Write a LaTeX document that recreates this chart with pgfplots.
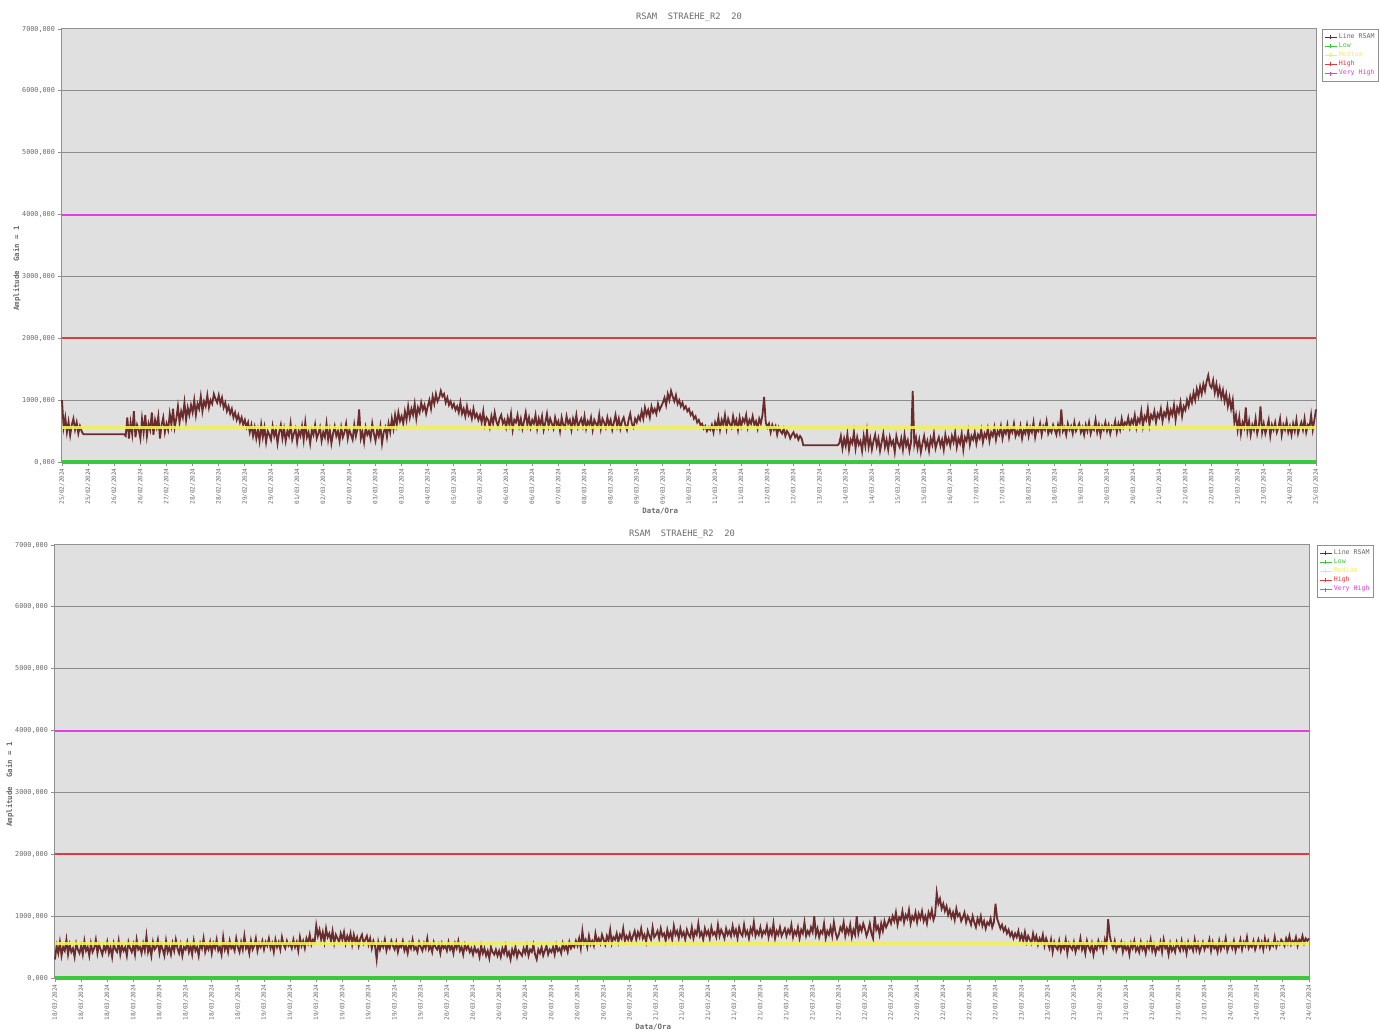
\documentclass[border=0pt]{standalone}
\usepackage{fontspec}
\setmainfont{DejaVu Sans Mono}
\usepackage{pgfplots}
\usepackage{pgfplotstable}
\pgfplotsset{compat=1.18}

\definecolor{plotbg}{HTML}{E0E0E0}
\definecolor{gridgray}{HTML}{8C8C8C}
\definecolor{axgray}{HTML}{909090}
\definecolor{lblgray}{HTML}{6A6A6A}
\definecolor{rsam}{HTML}{6A2C2C}
\definecolor{lowgreen}{HTML}{3CC83C}
\definecolor{medyellow}{HTML}{F2F05A}
\definecolor{highred}{HTML}{E03C3C}
\definecolor{vhmag}{HTML}{E040E0}

% RSAM samples, 16 per tick interval (25/02 - 25/03)
\pgfplotstableread[header=false,row sep=\\]{
1000\\560\\720\\480\\650\\430\\600\\700\\520\\640\\460\\580\\500\\450\\450\\450\\
450\\450\\450\\450\\450\\450\\450\\450\\450\\450\\450\\450\\450\\450\\450\\450\\
450\\450\\450\\450\\450\\450\\450\\420\\720\\380\\640\\450\\820\\400\\600\\520\\
380\\700\\480\\760\\420\\620\\520\\800\\440\\680\\560\\740\\380\\600\\720\\480\\
620\\520\\780\\600\\860\\560\\700\\900\\640\\820\\720\\960\\680\\880\\760\\920\\
800\\1000\\760\\940\\860\\1060\\820\\980\\900\\1080\\880\\1000\\940\\1100\\1020\\960\\
1080\\940\\1040\\880\\960\\820\\900\\780\\860\\720\\800\\680\\760\\640\\720\\600\\
680\\560\\640\\480\\600\\420\\560\\380\\520\\340\\600\\400\\560\\320\\500\\440\\
360\\580\\420\\520\\300\\480\\600\\380\\540\\340\\500\\420\\620\\360\\460\\540\\
320\\500\\420\\580\\360\\640\\400\\480\\300\\520\\440\\600\\380\\460\\560\\340\\
480\\400\\620\\360\\520\\300\\460\\580\\420\\500\\340\\560\\400\\480\\620\\380\\
520\\440\\360\\600\\420\\540\\850\\380\\480\\320\\560\\440\\500\\380\\620\\460\\
340\\520\\420\\580\\300\\480\\560\\400\\620\\480\\700\\540\\760\\600\\800\\660\\
740\\620\\820\\680\\900\\720\\860\\760\\940\\700\\880\\800\\960\\840\\920\\780\\
900\\1000\\860\\1060\\940\\1100\\980\\1040\\1150\\1060\\1100\\960\\1040\\920\\980\\880\\
940\\840\\900\\800\\960\\780\\860\\740\\900\\760\\820\\700\\860\\720\\780\\680\\
760\\640\\820\\600\\720\\680\\560\\740\\620\\800\\660\\580\\700\\760\\620\\680\\
560\\720\\600\\780\\520\\680\\640\\760\\580\\700\\540\\660\\800\\600\\720\\560\\
680\\620\\760\\540\\700\\600\\740\\520\\640\\780\\580\\700\\620\\540\\720\\600\\
660\\500\\720\\600\\560\\740\\620\\680\\520\\700\\600\\760\\560\\640\\700\\580\\
740\\540\\660\\600\\720\\520\\680\\620\\580\\760\\540\\700\\640\\560\\720\\600\\
680\\520\\640\\760\\580\\700\\540\\660\\720\\600\\520\\680\\780\\620\\560\\700\\
640\\740\\680\\820\\700\\880\\760\\840\\720\\900\\800\\860\\780\\940\\840\\900\\
960\\1040\\920\\1100\\1000\\1150\\1060\\980\\1080\\940\\1000\\900\\960\\860\\900\\820\\
860\\760\\800\\700\\740\\640\\680\\600\\620\\540\\580\\500\\560\\520\\600\\480\\
640\\560\\720\\520\\680\\600\\760\\540\\700\\620\\560\\740\\600\\680\\520\\720\\
580\\700\\640\\760\\560\\680\\620\\740\\600\\660\\540\\700\\620\\760\\1050\\640\\
560\\620\\480\\600\\520\\580\\440\\560\\500\\460\\540\\420\\500\\460\\380\\440\\
480\\400\\440\\360\\420\\380\\270\\270\\270\\270\\270\\270\\270\\270\\270\\270\\
270\\270\\270\\270\\270\\270\\270\\270\\270\\270\\270\\270\\300\\420\\220\\380\\
260\\450\\200\\360\\300\\480\\220\\400\\280\\340\\180\\420\\260\\500\\240\\380\\
200\\340\\440\\260\\380\\180\\320\\460\\240\\360\\200\\400\\280\\340\\160\\420\\
300\\240\\380\\200\\440\\260\\350\\180\\320\\1150\\280\\400\\220\\360\\160\\300\\
420\\240\\340\\180\\380\\280\\460\\220\\320\\400\\260\\360\\200\\440\\300\\380\\
260\\420\\320\\480\\240\\380\\300\\460\\200\\400\\340\\500\\280\\420\\360\\480\\
300\\440\\380\\520\\320\\460\\400\\540\\340\\480\\420\\560\\360\\500\\440\\580\\
380\\520\\460\\600\\400\\540\\480\\620\\420\\500\\440\\580\\380\\520\\460\\600\\
420\\560\\480\\640\\400\\540\\500\\620\\440\\580\\520\\660\\460\\540\\480\\600\\
520\\440\\600\\480\\850\\500\\560\\440\\620\\520\\580\\460\\640\\500\\560\\620\\
480\\560\\440\\600\\500\\640\\460\\560\\520\\680\\480\\600\\440\\580\\520\\640\\
500\\600\\460\\580\\540\\660\\480\\620\\520\\700\\560\\640\\600\\720\\560\\680\\
620\\760\\560\\700\\640\\820\\580\\740\\680\\860\\600\\760\\700\\820\\640\\780\\
720\\860\\660\\800\\740\\900\\700\\840\\760\\920\\680\\880\\800\\960\\740\\900\\
840\\1000\\900\\1060\\960\\1120\\1000\\1180\\1060\\1220\\1100\\1260\\1150\\1300\\1400\\1240\\
1200\\1320\\1120\\1260\\1080\\1200\\1040\\1160\\980\\1100\\900\\1040\\860\\1000\\640\\760\\
520\\720\\460\\640\\560\\880\\500\\660\\440\\600\\520\\700\\460\\580\\900\\480\\
620\\460\\560\\680\\420\\600\\520\\640\\480\\560\\700\\440\\600\\520\\660\\480\\
580\\440\\620\\500\\680\\460\\560\\640\\520\\700\\480\\600\\560\\760\\520\\680\\
850\\
}\rsamtop

% RSAM samples, 16 per tick interval (18/03 - 24/03)
\pgfplotstableread[header=false,row sep=\\]{
300\\520\\400\\580\\360\\500\\440\\620\\380\\540\\420\\480\\340\\560\\460\\400\\
520\\380\\600\\440\\500\\360\\560\\420\\480\\620\\400\\540\\460\\380\\520\\440\\
580\\400\\500\\340\\560\\460\\420\\600\\380\\520\\440\\500\\360\\580\\480\\420\\
540\\380\\620\\460\\500\\400\\560\\440\\680\\420\\520\\360\\580\\460\\500\\620\\
400\\540\\460\\360\\600\\420\\500\\380\\560\\440\\620\\480\\400\\540\\360\\500\\
460\\580\\420\\520\\380\\600\\440\\500\\360\\560\\480\\640\\420\\520\\460\\580\\
400\\560\\480\\620\\440\\500\\380\\660\\460\\540\\420\\600\\480\\520\\440\\640\\
500\\420\\580\\460\\680\\480\\540\\400\\600\\460\\520\\640\\440\\560\\500\\600\\
460\\580\\520\\640\\480\\560\\420\\620\\500\\580\\460\\660\\540\\480\\600\\520\\
560\\480\\620\\500\\580\\440\\660\\520\\600\\480\\640\\560\\700\\540\\620\\580\\
850\\680\\780\\620\\740\\580\\800\\660\\720\\600\\760\\560\\700\\640\\580\\720\\
620\\740\\560\\680\\600\\720\\540\\700\\580\\660\\520\\640\\700\\560\\620\\680\\
540\\640\\480\\600\\520\\300\\580\\460\\560\\500\\620\\440\\540\\480\\600\\520\\
460\\580\\420\\540\\500\\600\\440\\520\\400\\560\\480\\620\\460\\500\\420\\580\\
500\\440\\560\\480\\640\\460\\520\\420\\580\\500\\460\\540\\400\\560\\480\\520\\
440\\580\\460\\520\\400\\560\\480\\600\\440\\500\\380\\540\\460\\520\\420\\480\\
380\\500\\420\\460\\340\\520\\400\\480\\360\\440\\320\\500\\420\\380\\460\\360\\
440\\340\\480\\400\\520\\360\\420\\300\\460\\380\\500\\340\\440\\400\\360\\480\\
400\\520\\360\\460\\420\\540\\380\\300\\460\\400\\500\\360\\440\\520\\380\\460\\
420\\500\\380\\540\\440\\480\\400\\560\\460\\520\\420\\580\\480\\540\\500\\600\\
520\\640\\480\\760\\560\\620\\500\\680\\540\\600\\520\\720\\580\\640\\560\\700\\
620\\540\\680\\600\\780\\560\\660\\620\\720\\580\\700\\640\\800\\600\\680\\620\\
720\\600\\680\\760\\620\\740\\660\\800\\640\\700\\580\\760\\680\\620\\820\\660\\
700\\760\\640\\800\\680\\720\\600\\780\\660\\740\\620\\840\\700\\760\\640\\800\\
680\\740\\620\\780\\700\\660\\820\\640\\760\\700\\880\\680\\740\\620\\800\\700\\
760\\640\\820\\700\\740\\660\\860\\680\\780\\720\\640\\800\\700\\760\\680\\840\\
700\\780\\640\\820\\720\\680\\860\\700\\760\\640\\800\\720\\900\\680\\760\\700\\
820\\680\\760\\720\\840\\660\\780\\700\\880\\640\\760\\700\\820\\680\\740\\800\\
680\\780\\720\\860\\660\\760\\700\\820\\640\\780\\720\\900\\680\\760\\700\\820\\
740\\1000\\700\\800\\660\\760\\720\\880\\640\\760\\700\\820\\680\\900\\740\\640\\
700\\820\\760\\900\\680\\800\\720\\860\\660\\780\\700\\1000\\720\\840\\760\\880\\
800\\680\\760\\880\\720\\640\\1000\\780\\840\\700\\880\\760\\920\\820\\880\\960\\
880\\1000\\920\\1060\\860\\980\\940\\1080\\900\\1020\\960\\1100\\880\\1000\\940\\1060\\
900\\1040\\960\\1080\\920\\1000\\880\\1060\\980\\1100\\940\\1020\\1380\\1200\\1280\\1120\\
1200\\1080\\1160\\1020\\1100\\980\\1060\\940\\1120\\1000\\1040\\920\\980\\1060\\900\\1000\\
940\\860\\1000\\900\\820\\960\\880\\1000\\840\\920\\800\\900\\860\\960\\820\\900\\
1200\\960\\880\\800\\860\\760\\820\\720\\780\\680\\740\\640\\720\\660\\760\\620\\
700\\600\\740\\580\\680\\620\\560\\720\\600\\680\\540\\640\\580\\700\\520\\640\\
560\\480\\620\\420\\580\\500\\460\\600\\440\\540\\480\\620\\400\\560\\500\\460\\
580\\420\\520\\480\\640\\460\\540\\400\\600\\500\\440\\560\\380\\520\\460\\600\\
500\\560\\440\\620\\520\\950\\680\\560\\480\\600\\440\\520\\500\\580\\420\\540\\
460\\520\\380\\560\\480\\600\\440\\500\\420\\580\\460\\520\\400\\560\\480\\620\\
440\\540\\400\\500\\460\\580\\420\\620\\480\\520\\380\\560\\440\\500\\420\\580\\
500\\440\\600\\460\\540\\400\\580\\480\\520\\440\\620\\460\\560\\420\\500\\580\\
460\\540\\500\\620\\440\\580\\480\\520\\420\\600\\460\\560\\500\\640\\440\\520\\
560\\480\\600\\440\\540\\500\\620\\460\\580\\520\\660\\480\\540\\500\\600\\460\\
540\\620\\500\\580\\460\\640\\520\\600\\480\\560\\520\\660\\500\\580\\540\\620\\
580\\520\\640\\560\\680\\540\\600\\560\\660\\520\\620\\580\\680\\560\\640\\600\\
640\\
}\rsambot

\pgfplotsset{
  rsamaxis/.style={
    scale only axis, width=627pt, height=216.5pt,
    anchor=south west,
    xmin=0, xmax=48, ymin=0, ymax=7000,
    clip=false,
    axis background/.style={fill=plotbg},
    axis line style={draw=axgray, line width=0.5pt},
    ytick={0,1000,...,7000},
    xtick={0,...,48},
    ymajorgrids, grid style={draw=gridgray, line width=0.5pt},
    tick align=outside, tick pos=left,
    major tick length=2pt,
    tick style={draw=axgray, line width=0.4pt},
    yticklabel style={font=\fontsize{3.4}{4}\selectfont, text=lblgray, xshift=2pt,
      /pgf/number format/.cd, fixed, fixed zerofill, precision=3, use comma,
      1000 sep={}, assume math mode=true},
    xticklabel style={rotate=90, anchor=east, font=\fontsize{3.0}{4}\selectfont,
      text=lblgray, inner sep=1pt},
    title style={font=\fontsize{4.4}{5}\selectfont, text=lblgray,
      at={(0.5,1)}, anchor=base, yshift=-1.5pt},
    xlabel={Data/Ora},
    ylabel={Amplitude~~Gain~=~1},
    xlabel style={font=\bfseries\fontsize{3.7}{4}\selectfont, text=lblgray,
      at={(axis description cs:0.477,0)}, anchor=center, yshift=-24.5pt},
    ylabel style={font=\bfseries\fontsize{3.7}{4}\selectfont, text=lblgray,
      at={(axis description cs:-0.036,0.447)}, anchor=center},
    legend style={at={(1,1)}, anchor=north west, draw=axgray, fill=white,
      font=\fontsize{3.3}{4}\selectfont, inner sep=1pt, row sep=-1pt,
      nodes={inner sep=0.8pt}},
    legend cell align=left,
    legend image code/.code={
      \draw[##1, line width=0.4pt] (0pt,0pt) -- (6pt,0pt);
      \draw[##1, line width=0.4pt] (3pt,-1pt) -- (3pt,1pt);
    },
  }
}

\begin{document}
\begin{tikzpicture}
\useasboundingbox (0,0) rectangle (690pt,516pt);

\begin{axis}[rsamaxis, at={(31pt,285pt)},
  title={RSAM~~STRAEHE\_R2~~20},
  legend style={xshift=3pt},
  xticklabels={25/02/2024,25/02/2024,26/02/2024,26/02/2024,27/02/2024,28/02/2024,
    28/02/2024,29/02/2024,29/02/2024,01/03/2024,02/03/2024,02/03/2024,03/03/2024,
    03/03/2024,04/03/2024,05/03/2024,05/03/2024,06/03/2024,06/03/2024,07/03/2024,
    08/03/2024,08/03/2024,09/03/2024,09/03/2024,10/03/2024,11/03/2024,11/03/2024,
    12/03/2024,12/03/2024,13/03/2024,14/03/2024,14/03/2024,15/03/2024,15/03/2024,
    16/03/2024,17/03/2024,17/03/2024,18/03/2024,18/03/2024,19/03/2024,20/03/2024,
    20/03/2024,21/03/2024,21/03/2024,22/03/2024,23/03/2024,23/03/2024,24/03/2024,
    25/03/2024}]
\addplot[rsam, line width=0.9pt, forget plot] table[x expr=\coordindex/16, y index=0] {\rsamtop};
\addplot[medyellow, line width=1.5pt, opacity=0.9, forget plot] coordinates {(0,550) (48,550)};
\addplot[highred, line width=1pt, forget plot] coordinates {(0,2000) (48,2000)};
\addplot[vhmag, line width=1pt, forget plot] coordinates {(0,4000) (48,4000)};
\addplot[lowgreen, line width=2pt, forget plot] coordinates {(0,0) (48,0)};
\addlegendimage{rsam}\addlegendentry{\textcolor{lblgray}{Line RSAM}}
\addlegendimage{lowgreen}\addlegendentry{\textcolor{lowgreen}{Low}}
\addlegendimage{medyellow}\addlegendentry{\textcolor{medyellow}{Medium}}
\addlegendimage{highred}\addlegendentry{\textcolor{highred}{High}}
\addlegendimage{vhmag}\addlegendentry{\textcolor{vhmag}{Very High}}
\end{axis}

\begin{axis}[rsamaxis, at={(27.5pt,27pt)},
  title={RSAM~~STRAEHE\_R2~~20},
  legend style={xshift=4pt},
  xticklabels={18/03/2024,18/03/2024,18/03/2024,18/03/2024,18/03/2024,18/03/2024,
    18/03/2024,18/03/2024,19/03/2024,19/03/2024,19/03/2024,19/03/2024,19/03/2024,
    19/03/2024,19/03/2024,20/03/2024,20/03/2024,20/03/2024,20/03/2024,20/03/2024,
    20/03/2024,20/03/2024,20/03/2024,21/03/2024,21/03/2024,21/03/2024,21/03/2024,
    21/03/2024,21/03/2024,21/03/2024,22/03/2024,22/03/2024,22/03/2024,22/03/2024,
    22/03/2024,22/03/2024,22/03/2024,23/03/2024,23/03/2024,23/03/2024,23/03/2024,
    23/03/2024,23/03/2024,23/03/2024,23/03/2024,24/03/2024,24/03/2024,24/03/2024,
    24/03/2024}]
\addplot[rsam, line width=0.9pt, forget plot] table[x expr=\coordindex/16, y index=0] {\rsambot};
\addplot[medyellow, line width=1.5pt, opacity=0.9, forget plot] coordinates {(0,560) (48,560)};
\addplot[highred, line width=1pt, forget plot] coordinates {(0,2000) (48,2000)};
\addplot[vhmag, line width=1pt, forget plot] coordinates {(0,4000) (48,4000)};
\addplot[lowgreen, line width=2pt, forget plot] coordinates {(0,0) (48,0)};
\addlegendimage{rsam}\addlegendentry{\textcolor{lblgray}{Line RSAM}}
\addlegendimage{lowgreen}\addlegendentry{\textcolor{lowgreen}{Low}}
\addlegendimage{medyellow}\addlegendentry{\textcolor{medyellow}{Medium}}
\addlegendimage{highred}\addlegendentry{\textcolor{highred}{High}}
\addlegendimage{vhmag}\addlegendentry{\textcolor{vhmag}{Very High}}
\end{axis}
\end{tikzpicture}
\end{document}
